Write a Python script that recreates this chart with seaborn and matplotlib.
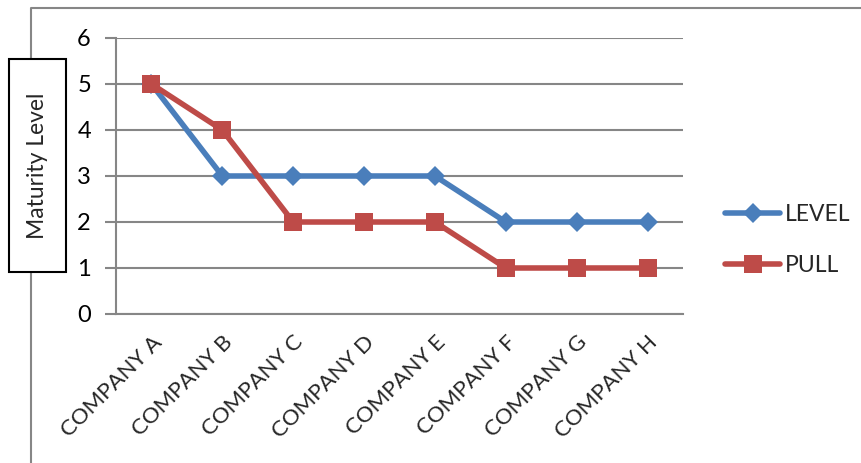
import matplotlib
matplotlib.use("Agg")
import matplotlib.pyplot as plt
import seaborn as sns
import pandas as pd
from matplotlib.lines import Line2D
from matplotlib.patches import Rectangle

companies = ["COMPANY A", "COMPANY B", "COMPANY C", "COMPANY D",
             "COMPANY E", "COMPANY F", "COMPANY G", "COMPANY H"]
level = [5, 3, 3, 3, 3, 2, 2, 2]
pull = [5, 4, 2, 2, 2, 1, 1, 1]
series_names = ["LEVEL", "PULL"]
y_ticks = [0, 1, 2, 3, 4, 5, 6]

df = pd.DataFrame({
    "company": companies * 2,
    "value": level + pull,
    "series": [series_names[0]] * len(companies) + [series_names[1]] * len(companies),
})

sns.set_theme(style="white")
plt.rcParams["font.family"] = ["Lato", "DejaVu Sans"]

W, H = 861, 463
fig = plt.figure(figsize=(W / 100, H / 100), dpi=100)
ax = fig.add_axes([116 / W, (H - 314) / H, 567 / W, 276 / H])

grid_c = "#868686"
colors = {"LEVEL": "#4A7EBB", "PULL": "#BE4B48"}

sns.lineplot(data=df, x="company", y="value", hue="series", style="series",
             palette=colors, markers={"LEVEL": "D", "PULL": "s"}, dashes=False,
             linewidth=4, sort=False, ax=ax, legend=False)
for ln, ms in zip(ax.lines, [10, 13]):
    ln.set_markersize(ms)
    ln.set_markeredgewidth(0)
    ln.set_solid_joinstyle("round")
    ln.set_solid_capstyle("round")
# red series drawn above blue
ax.lines[1].set_zorder(4)
ax.lines[0].set_zorder(3)

ax.set_xlim(-0.5, len(companies) - 0.5)
ax.set_ylim(0, 6)
ax.set_yticks(y_ticks)
ax.yaxis.grid(True, color=grid_c, linewidth=1.5)
ax.set_axisbelow(True)
ax.set_xlabel("")
ax.set_ylabel("")

for side in ["top", "right"]:
    ax.spines[side].set_visible(False)
for side in ["left", "bottom"]:
    ax.spines[side].set_color(grid_c)
    ax.spines[side].set_linewidth(1.5)

ax.set_xticks([i for i in range(len(companies))])
ax.set_xticklabels(companies, rotation=45, ha="right", rotation_mode="anchor",
                   fontsize=16)
ax.tick_params(axis="x", length=0, pad=13)
# category boundary ticks
ax.set_xticks([i - 0.5 for i in range(len(companies) + 1)], minor=True)
ax.tick_params(axis="x", which="minor", length=7, width=1.5, color=grid_c, direction="out")
ax.tick_params(axis="y", length=8, width=1.5, color=grid_c, direction="out",
               labelsize=17, pad=10, left=True)
for t in ax.get_yticklabels():
    t.set_color("black")

# chart frame
fig.add_artist(Line2D([31 / W, 31 / W, 1.0], [0.0, (H - 8) / H, (H - 8) / H],
                      transform=fig.transFigure, color=grid_c, linewidth=1.5))

# boxed axis title
fig.add_artist(Rectangle((9 / W, (H - 272) / H), 57 / W, 213 / H,
                         transform=fig.transFigure, facecolor="white",
                         edgecolor="black", linewidth=1.5, zorder=5))
fig.text(37.5 / W, (H - 166) / H, "Maturity Level", rotation=90,
         ha="center", va="center", fontsize=16.5, zorder=6)

handles = [Line2D([], [], color=colors[n], marker=m, markersize=ms, linewidth=4,
                  markeredgewidth=0, solid_capstyle="round")
           for n, m, ms in zip(series_names, ["D", "s"], [10, 13])]
fig.legend(handles, series_names, loc="center left",
           bbox_to_anchor=(714 / W, (H - 240) / H), frameon=False,
           fontsize=16.5, handlelength=2.4, handletextpad=0.2, labelspacing=1.3,
           borderpad=0)

fig.savefig("out.png", dpi=100)
